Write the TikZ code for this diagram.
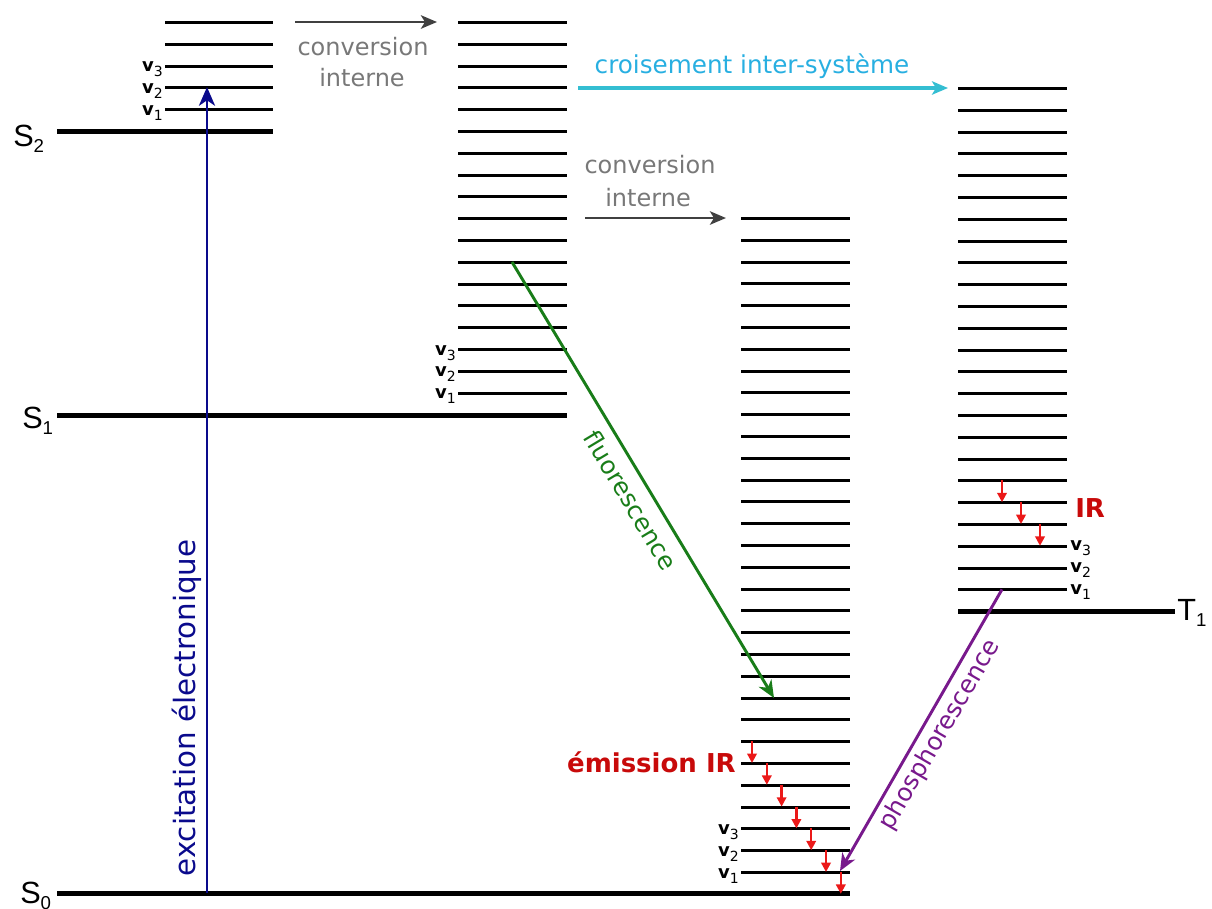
\documentclass[tikz,border=0pt]{standalone}
\usepackage{fontspec}
\setmainfont{DejaVu Sans}
\newfontfamily\lvlfont{Liberation Sans}
\usetikzlibrary{arrows.meta}
\definecolor{convline}{RGB}{64,64,64}
\definecolor{convtxt}{RGB}{120,120,120}
\definecolor{cyanc}{RGB}{52,190,210}
\definecolor{cyantxt}{RGB}{40,175,225}
\definecolor{navyc}{RGB}{10,10,140}
\definecolor{greenc}{RGB}{25,125,25}
\definecolor{purplec}{RGB}{120,25,140}
\definecolor{redc}{RGB}{235,25,25}
\definecolor{redtxt}{RGB}{200,10,10}
\newcommand\lvsub[1]{\raisebox{-4.5pt}{\fontsize{14}{14}\selectfont #1}}
\newcommand\vlab[1]{{\bfseries v}\raisebox{-3.8pt}{\fontsize{10.5}{10.5}\selectfont #1}}
\begin{document}
\begin{tikzpicture}[x=0.75pt,y=-0.75pt,
  lvl/.style={line width=2.25pt},
  elec/.style={line width=3.75pt},
  lvllab/.style={inner sep=0pt,font=\lvlfont\fontsize{23}{25}\selectfont},
  vlabel/.style={inner sep=0pt,font=\fontsize{13.5}{14}\selectfont},
  convtext/.style={inner sep=0pt,text=convtxt,font=\fontsize{18}{20}\selectfont},
  convarrow/.style={draw=convline,line width=2.2pt,-{Stealth[length=12pt,width=10pt,inset=3pt]}},
  iscarrow/.style={draw=cyanc,line width=2.4pt,-{Stealth[length=12pt,width=10pt,inset=3pt]}},
  excarrow/.style={draw=navyc,line width=2.2pt,-{Stealth[length=14pt,width=12pt,inset=4pt]}},
  fluoarrow/.style={draw=greenc,line width=2.2pt,-{Stealth[length=13pt,width=11pt,inset=4pt]}},
  phosarrow/.style={draw=purplec,line width=2.2pt,-{Stealth[length=13pt,width=11pt,inset=4pt]}},
  irarrow/.style={draw=redc,line width=1.9pt,-{Triangle[length=7pt,width=7pt]}},
  irtext/.style={inner sep=0pt,text=redtxt,font=\bfseries\fontsize{19.5}{21}\selectfont}]
\useasboundingbox (0,0) rectangle (1212,908);

% ---- vibrational levels ----
\foreach \k in {0,...,4} \draw[lvl] (165,{round(22+21.8*\k)+0.5}) -- (273,{round(22+21.8*\k)+0.5});
\foreach \k in {0,...,17} \draw[lvl] (458,{round(22+21.8*\k)+0.5}) -- (567,{round(22+21.8*\k)+0.5});
\foreach \k in {0,...,30} \draw[lvl] (741,{round(218+21.8*\k)+0.5}) -- (850,{round(218+21.8*\k)+0.5});
\foreach \k in {0,...,23} \draw[lvl] (958,{round(88+21.8*\k)+0.5}) -- (1067,{round(88+21.8*\k)+0.5});

% ---- electronic levels ----
\draw[elec] (57,131.5) -- (273,131.5);
\draw[elec] (57,415.5) -- (567,415.5);
\draw[elec] (57,893.5) -- (850,893.5);
\draw[elec] (958,611.5) -- (1175,611.5);

\node[lvllab,anchor=base west] (S2) at (13,146) {S\lvsub{2}};
\node[lvllab,anchor=base west] (S1) at (22,428) {S\lvsub{1}};
\node[lvllab,anchor=base west] (S0) at (20,903) {S\lvsub{0}};
\node[lvllab,anchor=base west] (T1) at (1177,620) {T\lvsub{1}};

% ---- v labels ----
\node[vlabel,anchor=base east] (a3) at (163,71.6) {\vlab{3}};
\node[vlabel,anchor=base east] (a2) at (163,93.4) {\vlab{2}};
\node[vlabel,anchor=base east] (a1) at (163,115.2) {\vlab{1}};
\node[vlabel,anchor=base east] (b3) at (456,355) {\vlab{3}};
\node[vlabel,anchor=base east] (b2) at (456,376.8) {\vlab{2}};
\node[vlabel,anchor=base east] (b1) at (456,398.6) {\vlab{1}};
\node[vlabel,anchor=base east] (c3) at (739,834.4) {\vlab{3}};
\node[vlabel,anchor=base east] (c2) at (739,856.2) {\vlab{2}};
\node[vlabel,anchor=base east] (c1) at (739,878) {\vlab{1}};
\node[vlabel,anchor=base west] (d3) at (1070,550.8) {\vlab{3}};
\node[vlabel,anchor=base west] (d2) at (1070,572.6) {\vlab{2}};
\node[vlabel,anchor=base west] (d1) at (1070,594.4) {\vlab{1}};

% ---- conversion interne (top) ----
\coordinate (ci1s) at (295,22);
\coordinate (ci1e) at (437,22);
\draw[convarrow] (ci1s) -- (ci1e);
\node[convtext,anchor=base] (ci1a) at (363,55) {conversion};
\node[convtext,anchor=base] (ci1b) at (362,86) {interne};

% ---- conversion interne (middle) ----
\coordinate (ci2s) at (585,218);
\coordinate (ci2e) at (726,218);
\draw[convarrow] (ci2s) -- (ci2e);
\node[convtext,anchor=base] (ci2a) at (650,173) {conversion};
\node[convtext,anchor=base] (ci2b) at (648,206) {interne};

% ---- croisement inter-systeme ----
\coordinate (iscs) at (578,88);
\coordinate (isce) at (948,88);
\draw[iscarrow] (iscs) -- (isce);
\node[inner sep=0pt,anchor=base,text=cyantxt,font=\fontsize{18.5}{20}\selectfont] (isct) at (752,73) {croisement inter-système};

% ---- excitation ----
\coordinate (exs) at (207,893);
\coordinate (exe) at (207,87);
\draw[excarrow] (exs) -- (exe);
\node[inner sep=0pt,rotate=90,text=navyc,font=\fontsize{22}{23}\selectfont] (ext) at (187,708) {excitation électronique};

% ---- fluorescence ----
\coordinate (fls) at (512,262);
\coordinate (fle) at (774,698);
\draw[fluoarrow] (fls) -- (fle);
\node[inner sep=0pt,rotate=-59,text=greenc,font=\fontsize{18.5}{20}\selectfont] (flt) at (631,500) {fluorescence};

% ---- phosphorescence ----
\coordinate (phs) at (1002,589.4);
\coordinate (phe) at (840,871);
\draw[phosarrow] (phs) -- (phe);
\node[inner sep=0pt,rotate=59.8,text=purplec,font=\fontsize{18.5}{20}\selectfont] (pht) at (940,735) {phosphorescence};

% ---- IR relaxation (S0 column) ----
\foreach \i in {0,...,6} {
  \coordinate (irs\i) at ({752+14.8*\i},{218+21.8*(24+\i)});
  \coordinate (ire\i) at ({752+14.8*\i},{218+21.8*(25+\i)});
  \draw[irarrow] (irs\i) -- (ire\i);
}
\node[irtext,anchor=base east] (emir) at (736,772) {émission IR};

% ---- IR relaxation (T1 column) ----
\foreach \i/\x in {0/1002,1/1021,2/1040} {
  \coordinate (jrs\i) at (\x,{88+21.8*(18+\i)});
  \coordinate (jre\i) at (\x,{88+21.8*(19+\i)});
  \draw[irarrow] (jrs\i) -- (jre\i);
}
\node[irtext,anchor=base west] (tir) at (1075,517) {IR};
\end{tikzpicture}
\end{document}
